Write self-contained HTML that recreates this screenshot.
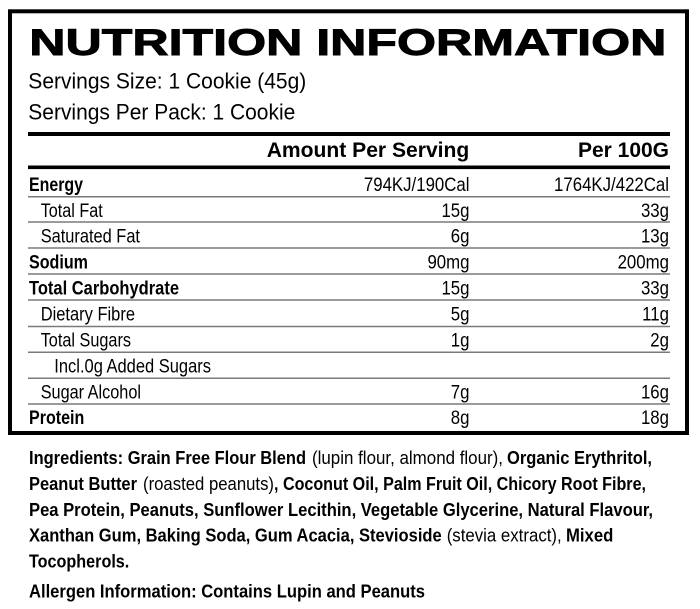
<!DOCTYPE html>
<html><head><meta charset="utf-8"><style>
html,body{margin:0;padding:0;background:#fff;}
svg{display:block;}
text{font-family:"Liberation Sans",Arial,sans-serif;fill:#000;}
.b{font-weight:bold;}
</style></head><body>
<svg width="700" height="609" viewBox="0 0 700 609" xmlns="http://www.w3.org/2000/svg">
<rect x="0" y="0" width="700" height="609" fill="#fff"/>
<rect x="10" y="11.3" width="677" height="421.7" fill="none" stroke="#000" stroke-width="4"/>
<text class="b" x="29.3" y="55" font-size="37" textLength="637" lengthAdjust="spacingAndGlyphs" stroke="#000" stroke-width="0.9">NUTRITION INFORMATION</text>
<text x="28.3" y="88.3" font-size="22" textLength="278" lengthAdjust="spacingAndGlyphs">Servings Size: 1 Cookie (45g)</text>
<text x="28.3" y="119.3" font-size="22" textLength="267" lengthAdjust="spacingAndGlyphs">Servings Per Pack: 1 Cookie</text>
<rect x="28" y="132" width="642" height="4" fill="#000"/>
<text class="b" x="266.7" y="157" font-size="21.5" textLength="202.6" lengthAdjust="spacingAndGlyphs">Amount Per Serving</text>
<text class="b" x="578" y="157" font-size="21.5" textLength="91" lengthAdjust="spacingAndGlyphs">Per 100G</text>
<rect x="28" y="165.5" width="642" height="3.6" fill="#000"/>
<g stroke="#7a7a7a" stroke-width="1.5">
<line x1="28" x2="670" y1="196.7" y2="196.7"/>
<line x1="28" x2="670" y1="222" y2="222"/>
<line x1="28" x2="670" y1="248" y2="248"/>
<line x1="28" x2="670" y1="274" y2="274"/>
<line x1="28" x2="670" y1="300" y2="300"/>
<line x1="28" x2="670" y1="326.5" y2="326.5"/>
<line x1="28" x2="670" y1="352.3" y2="352.3"/>
<line x1="28" x2="670" y1="378.3" y2="378.3"/>
<line x1="28" x2="670" y1="404" y2="404"/>
</g>
<g font-size="19">
<text class="b" x="29" y="190.8" textLength="54" lengthAdjust="spacingAndGlyphs">Energy</text>
<text x="40.7" y="216.8" textLength="62" lengthAdjust="spacingAndGlyphs">Total Fat</text>
<text x="40.7" y="242.6" textLength="99.3" lengthAdjust="spacingAndGlyphs">Saturated Fat</text>
<text class="b" x="29" y="268.6" textLength="59" lengthAdjust="spacingAndGlyphs">Sodium</text>
<text class="b" x="29" y="294.3" textLength="150" lengthAdjust="spacingAndGlyphs">Total Carbohydrate</text>
<text x="40.7" y="320.5" textLength="94.3" lengthAdjust="spacingAndGlyphs">Dietary Fibre</text>
<text x="40.7" y="346.5" textLength="90.3" lengthAdjust="spacingAndGlyphs">Total Sugars</text>
<text x="54.3" y="372.5" textLength="156.7" lengthAdjust="spacingAndGlyphs">Incl.0g Added Sugars</text>
<text x="40.7" y="398.5" textLength="100.3" lengthAdjust="spacingAndGlyphs">Sugar Alcohol</text>
<text class="b" x="29" y="424.2" textLength="55.3" lengthAdjust="spacingAndGlyphs">Protein</text>

<g text-anchor="end">
<text transform="translate(469.5,190.8) scale(0.885,1)">794KJ/190Cal</text>
<text transform="translate(669,190.8) scale(0.885,1)">1764KJ/422Cal</text>
<text transform="translate(469.5,216.8) scale(0.885,1)">15g</text>
<text transform="translate(669,216.8) scale(0.885,1)">33g</text>
<text transform="translate(469.5,242.6) scale(0.885,1)">6g</text>
<text transform="translate(669,242.6) scale(0.885,1)">13g</text>
<text transform="translate(469.5,268.6) scale(0.885,1)">90mg</text>
<text transform="translate(669,268.6) scale(0.885,1)">200mg</text>
<text transform="translate(469.5,294.3) scale(0.885,1)">15g</text>
<text transform="translate(669,294.3) scale(0.885,1)">33g</text>
<text transform="translate(469.5,320.5) scale(0.885,1)">5g</text>
<text transform="translate(669,320.5) scale(0.885,1)">11g</text>
<text transform="translate(469.5,346.5) scale(0.885,1)">1g</text>
<text transform="translate(669,346.5) scale(0.885,1)">2g</text>
<text transform="translate(469.5,398.5) scale(0.885,1)">7g</text>
<text transform="translate(669,398.5) scale(0.885,1)">16g</text>
<text transform="translate(469.5,424.2) scale(0.885,1)">8g</text>
<text transform="translate(669,424.2) scale(0.885,1)">18g</text>
</g>
</g>

<g font-size="18">
<text class="b" x="29" y="464" textLength="277" lengthAdjust="spacingAndGlyphs">Ingredients: Grain Free Flour Blend</text>
<text x="312" y="464" textLength="191" lengthAdjust="spacingAndGlyphs">(lupin flour, almond flour),</text>
<text class="b" x="507" y="464" textLength="145" lengthAdjust="spacingAndGlyphs">Organic Erythritol,</text>

<text class="b" x="29" y="490" textLength="108" lengthAdjust="spacingAndGlyphs">Peanut Butter</text>
<text x="143" y="490" textLength="131" lengthAdjust="spacingAndGlyphs">(roasted peanuts)</text>
<text class="b" x="274" y="490" textLength="372" lengthAdjust="spacingAndGlyphs">, Coconut Oil, Palm Fruit Oil, Chicory Root Fibre,</text>

<text class="b" x="29" y="516" textLength="624" lengthAdjust="spacingAndGlyphs">Pea Protein, Peanuts, Sunflower Lecithin, Vegetable Glycerine, Natural Flavour,</text>

<text class="b" x="29" y="541.7" textLength="412.7" lengthAdjust="spacingAndGlyphs">Xanthan Gum, Baking Soda, Gum Acacia, Stevioside</text>
<text x="446.7" y="541.7" textLength="115" lengthAdjust="spacingAndGlyphs">(stevia extract),</text>
<text class="b" x="566" y="541.7" textLength="47.3" lengthAdjust="spacingAndGlyphs">Mixed</text>

<text class="b" x="29" y="567.7" textLength="100.3" lengthAdjust="spacingAndGlyphs">Tocopherols.</text>

<text class="b" x="29" y="597.3" textLength="396" lengthAdjust="spacingAndGlyphs">Allergen Information: Contains Lupin and Peanuts</text>
</g>
</svg>
</body></html>
